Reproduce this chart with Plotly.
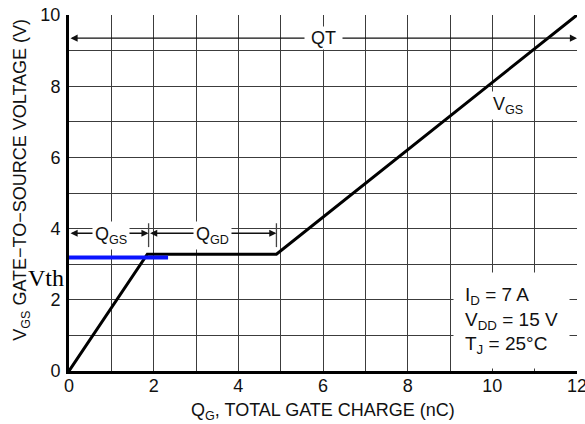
import plotly.graph_objects as go

# ---- data ----
qg = [0, 1.85, 4.9, 12]            # nC
vgs = [0, 3.28, 3.28, 10]          # V
vth_q = [0, 2.34]
vth_v = [3.19, 3.19]

x_ticks = [0, 2, 4, 6, 8, 10, 12]
y_ticks = [0, 2, 4, 6, 8, 10]

qt_span = [0, 12]
qt_level = 9.35
qt_label_x = 6.0
qgs_span = [0, 1.88]
qgd_span = [1.88, 4.9]
q_level = 3.87
q_marker_v = [3.48, 4.15]
qgs_label_x = 1.0
qgd_label_x = 3.4
vgs_label_xy = [10.37, 7.45]
cond_lines = ["I<sub>D</sub> = 7 A", "V<sub>DD</sub> = 15 V", "T<sub>J</sub> = 25°C"]
cond_xy = [9.06, 1.42]

FONT = "Liberation Sans, Arial, sans-serif"
NB = "\u00a0"

fig = go.Figure()
fig.add_trace(go.Scatter(x=qg, y=vgs, mode="lines",
                         line=dict(color="black", width=3), hoverinfo="skip"))
fig.add_trace(go.Scatter(x=vth_q, y=vth_v, mode="lines",
                         line=dict(color="#0a14ff", width=4), hoverinfo="skip"))

arrow_common = dict(xref="x", yref="y", axref="x", ayref="y", text="",
                    showarrow=True, arrowhead=2, arrowside="end+start",
                    arrowsize=1.1, arrowwidth=1.3, arrowcolor="#111",
                    standoff=0, startstandoff=0)
annotations = [
    dict(x=qt_span[1], y=qt_level, ax=qt_span[0], ay=qt_level, **arrow_common),
    dict(x=qgs_span[1], y=q_level, ax=qgs_span[0], ay=q_level, **arrow_common),
    dict(x=qgd_span[1], y=q_level, ax=qgd_span[0], ay=q_level, **arrow_common),
    dict(x=qt_label_x, y=qt_level, xref="x", yref="y", showarrow=False,
         text=NB + "QT" + NB, bgcolor="white", borderpad=1,
         font=dict(family=FONT, size=18, color="#111")),
    dict(x=qgs_label_x, y=q_level, xref="x", yref="y", showarrow=False,
         text="Q<sub>GS</sub>", bgcolor="white", borderpad=2, yshift=-2,
         font=dict(family=FONT, size=18, color="#111")),
    dict(x=qgd_label_x, y=q_level, xref="x", yref="y", showarrow=False,
         text="Q<sub>GD</sub>", bgcolor="white", borderpad=2, yshift=-2,
         font=dict(family=FONT, size=18, color="#111")),
    dict(x=vgs_label_xy[0], y=vgs_label_xy[1], xref="x", yref="y", showarrow=False,
         text="V<sub>GS</sub>", bgcolor="white", borderpad=2,
         font=dict(family=FONT, size=18, color="#111")),
    dict(x=cond_xy[0], y=cond_xy[1], xref="x", yref="y", showarrow=False,
         text="<br>".join(cond_lines), align="left", xanchor="left", yanchor="middle",
         bgcolor="white", borderpad=11,
         font=dict(family=FONT, size=19, color="#111")),
    dict(x=0, y=vth_v[0], xref="paper", yref="y", showarrow=False,
         text="Vth", xanchor="center", yanchor="middle", xshift=-23, yshift=-21,
         font=dict(family="Liberation Serif, Times New Roman, serif", size=24, color="black")),
    dict(x=0, y=0.537, xref="paper", yref="paper", showarrow=False,
         text="V<sub>GS</sub> GATE\u2212TO\u2212SOURCE VOLTAGE (V)", textangle=-90,
         xanchor="center", yanchor="middle", xshift=-47,
         font=dict(family=FONT, size=18, color="#111")),
    dict(x=0.5, y=0, xref="paper", yref="paper", showarrow=False,
         text="Q<sub>G</sub>, TOTAL GATE CHARGE (nC)",
         xanchor="center", yanchor="middle", yshift=-40,
         font=dict(family=FONT, size=18, color="#111")),
]

shapes = [
    dict(type="line", xref="x", yref="y", x0=qgs_span[1], x1=qgs_span[1],
         y0=q_marker_v[0], y1=q_marker_v[1], line=dict(color="#444", width=1.3)),
    dict(type="line", xref="x", yref="y", x0=qgd_span[1], x1=qgd_span[1],
         y0=q_marker_v[0], y1=q_marker_v[1], line=dict(color="#444", width=1.3)),
]

grid = "#3c3c3c"
fig.update_layout(
    width=585, height=424,
    margin=dict(l=69, r=8, t=15, b=53, autoexpand=False),
    paper_bgcolor="white", plot_bgcolor="white",
    showlegend=False,
    annotations=annotations, shapes=shapes,
    font=dict(family=FONT, size=18, color="#111"),
)
fig.update_xaxes(range=[0, 12], tickvals=x_ticks, showgrid=True, gridcolor=grid, gridwidth=1,
                 minor=dict(dtick=1, showgrid=True, gridcolor=grid, gridwidth=1),
                 showline=True, linecolor="black", linewidth=3, zeroline=False,
                 automargin=False, ticks="", ticklabelstandoff=-4, ticklabeloverflow="allow",
                 tickfont=dict(size=18, color="#111"))
fig.update_yaxes(range=[0, 10], tickvals=y_ticks, showgrid=True, gridcolor=grid, gridwidth=1,
                 minor=dict(dtick=1, showgrid=True, gridcolor=grid, gridwidth=1),
                 showline=True, linecolor="black", linewidth=3, zeroline=False,
                 automargin=False, ticks="", ticklabelstandoff=2, ticklabeloverflow="allow",
                 tickfont=dict(size=18, color="#111"))

# remove the page's default 8px body margin so the figure fills the window
fig.write_html("out.html",
               config={"displayModeBar": False, "staticPlot": True},
               post_script="document.body.style.margin='0';document.body.style.overflow='hidden';")
